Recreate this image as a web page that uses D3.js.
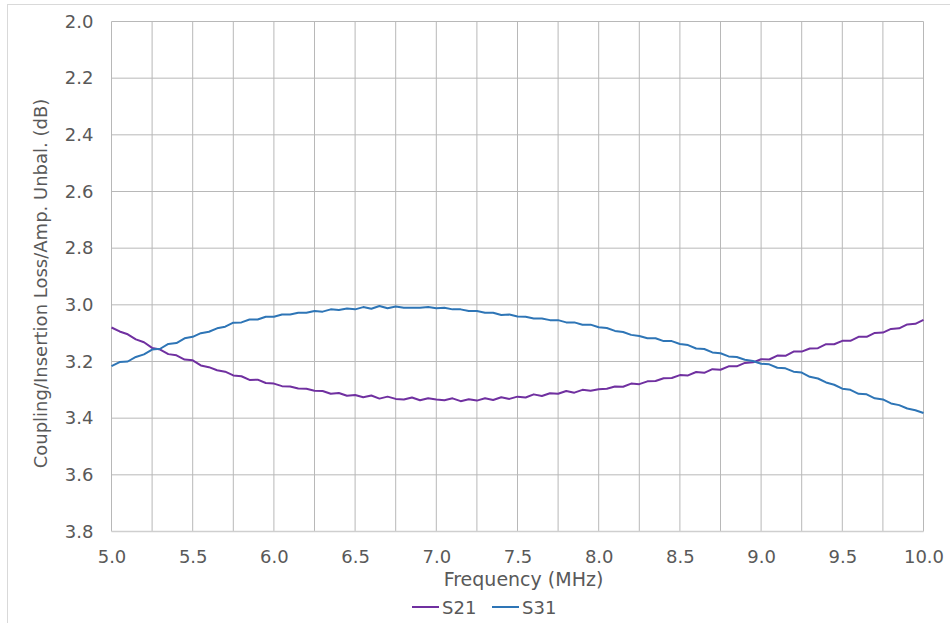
<!DOCTYPE html>
<html>
<head>
<meta charset="utf-8">
<script src="https://cdn.jsdelivr.net/npm/d3@7"></script>
<style>
  body { margin: 0; background: #fff; }
  text { font-family: "DejaVu Sans", Verdana, sans-serif; fill: #595959; }
</style>
</head>
<body>
<div id="chart"></div>
<script>
// frequency points (MHz), 0.05 MHz apart
const freqs = d3.range(0, 101).map(i => +(5 + i * 0.05).toFixed(2));

const s21 = [
  3.080, 3.094, 3.104, 3.122, 3.132, 3.152, 3.158, 3.174, 3.178, 3.193,
  3.196, 3.214, 3.220, 3.231, 3.236, 3.249, 3.252, 3.265, 3.264, 3.276,
  3.278, 3.287, 3.288, 3.295, 3.296, 3.303, 3.304, 3.314, 3.311, 3.321,
  3.318, 3.326, 3.320, 3.331, 3.324, 3.332, 3.334, 3.327, 3.337, 3.330,
  3.334, 3.337, 3.330, 3.340, 3.333, 3.338, 3.330, 3.336, 3.326, 3.332,
  3.324, 3.327, 3.316, 3.322, 3.312, 3.314, 3.304, 3.310, 3.300, 3.303,
  3.298, 3.296, 3.288, 3.289, 3.278, 3.280, 3.270, 3.269, 3.259, 3.258,
  3.248, 3.249, 3.237, 3.240, 3.227, 3.229, 3.217, 3.217, 3.205, 3.203,
  3.192, 3.193, 3.179, 3.180, 3.165, 3.165, 3.154, 3.153, 3.139, 3.139,
  3.127, 3.127, 3.113, 3.113, 3.099, 3.098, 3.085, 3.083, 3.069, 3.067,
  3.053
];

const s31 = [
  3.216, 3.202, 3.200, 3.184, 3.175, 3.158, 3.155, 3.138, 3.135, 3.118,
  3.113, 3.100, 3.095, 3.083, 3.077, 3.063, 3.062, 3.052, 3.052, 3.042,
  3.042, 3.034, 3.034, 3.028, 3.028, 3.022, 3.024, 3.016, 3.018, 3.013,
  3.016, 3.008, 3.014, 3.004, 3.012, 3.006, 3.010, 3.010, 3.010, 3.008,
  3.012, 3.010, 3.016, 3.016, 3.022, 3.022, 3.028, 3.028, 3.036, 3.034,
  3.041, 3.042, 3.048, 3.048, 3.054, 3.054, 3.062, 3.062, 3.070, 3.070,
  3.079, 3.082, 3.092, 3.096, 3.106, 3.110, 3.118, 3.118, 3.128, 3.128,
  3.138, 3.142, 3.154, 3.156, 3.168, 3.171, 3.182, 3.184, 3.194, 3.198,
  3.208, 3.210, 3.222, 3.224, 3.236, 3.239, 3.254, 3.260, 3.274, 3.282,
  3.296, 3.300, 3.314, 3.316, 3.330, 3.334, 3.348, 3.354, 3.366, 3.372,
  3.382
];

const seriesNames = ["S21", "S31"];
const seriesColors = ["#7030a0", "#2e75b6"];
const xTicks = [5.0, 5.5, 6.0, 6.5, 7.0, 7.5, 8.0, 8.5, 9.0, 9.5, 10.0];
const xGrid = d3.range(0, 21).map(i => 5 + i * 0.25);
const yTicks = [2.0, 2.2, 2.4, 2.6, 2.8, 3.0, 3.2, 3.4, 3.6, 3.8];

const W = 950, H = 623;
const m = { left: 111.5, right: 26.5, top: 21.5, bottom: 91.5 };

const svg = d3.select("#chart").append("svg")
  .attr("width", W).attr("height", H);

//Chart border
svg.append("rect")
  .attr("x", 7.5).attr("y", 4.5)
  .attr("width", W).attr("height", H)
  .attr("fill", "none").attr("stroke", "#d9d9d9");

const x = d3.scaleLinear().domain([5, 10]).range([m.left, W - m.right]);
const y = d3.scaleLinear().domain([2.0, 3.8]).range([m.top, H - m.bottom]);

//Grid lines
svg.append("g").selectAll("line")
  .data(xGrid)
  .enter().append("line")
  .attr("x1", d => x(d)).attr("x2", d => x(d))
  .attr("y1", m.top).attr("y2", H - m.bottom)
  .attr("stroke", "#b8b8b8").attr("stroke-width", 1);

svg.append("g").selectAll("line")
  .data(yTicks.slice(0, -1))
  .enter().append("line")
  .attr("x1", m.left).attr("x2", W - m.right)
  .attr("y1", d => y(d)).attr("y2", d => y(d))
  .attr("stroke", "#b8b8b8").attr("stroke-width", 1);

//Bottom axis line
svg.append("line")
  .attr("x1", m.left).attr("x2", W - m.right)
  .attr("y1", y(3.8)).attr("y2", y(3.8))
  .attr("stroke", "#cfcfcf").attr("stroke-width", 1.5);

//Axes (labels only)
const xAxis = svg.append("g")
  .attr("transform", `translate(0,${H - m.bottom})`)
  .call(d3.axisBottom(x).tickValues(xTicks).tickSize(0).tickFormat(d3.format(".1f")));
xAxis.select(".domain").remove();
xAxis.selectAll("text")
  .attr("dy", 0).attr("y", 31)
  .style("font-size", "18px").style("fill", "#595959")
  .style("font-family", "DejaVu Sans");

const yAxis = svg.append("g")
  .attr("transform", `translate(${m.left},0)`)
  .call(d3.axisLeft(y).tickValues(yTicks).tickSize(0).tickFormat(d3.format(".1f")));
yAxis.select(".domain").remove();
yAxis.selectAll("text")
  .attr("x", -18)
  .style("font-size", "18px").style("fill", "#595959")
  .style("font-family", "DejaVu Sans");

//Axis titles
svg.append("text")
  .attr("x", x(7.5) + 6).attr("y", 586)
  .attr("text-anchor", "middle")
  .style("font-size", "19px")
  .text("Frequency (MHz)");

svg.append("text")
  .attr("transform", `translate(47,${(m.top + H - m.bottom) / 2 + 7}) rotate(-90)`)
  .attr("text-anchor", "middle")
  .style("font-size", "18px")
  .text("Coupling/Insertion Loss/Amp. Unbal. (dB)");

//Series lines
const line = d3.line()
  .x((d, i) => x(freqs[i]))
  .y(d => y(d));

[s21, s31].forEach((vals, k) => {
  svg.append("path")
    .datum(vals)
    .attr("d", line)
    .attr("fill", "none")
    .attr("stroke", seriesColors[k])
    .attr("stroke-width", 2)
    .attr("stroke-linejoin", "round");
});

//Legend
const legend = svg.append("g").attr("transform", "translate(412,607)");
seriesNames.forEach((name, k) => {
  const g = legend.append("g").attr("transform", `translate(${k * 80},0)`);
  g.append("line")
    .attr("x1", 0).attr("x2", 27).attr("y1", 0).attr("y2", 0)
    .attr("stroke", seriesColors[k]).attr("stroke-width", 2);
  g.append("text")
    .attr("x", 30).attr("y", 6.5)
    .style("font-size", "18px")
    .text(name);
});
</script>
</body>
</html>
